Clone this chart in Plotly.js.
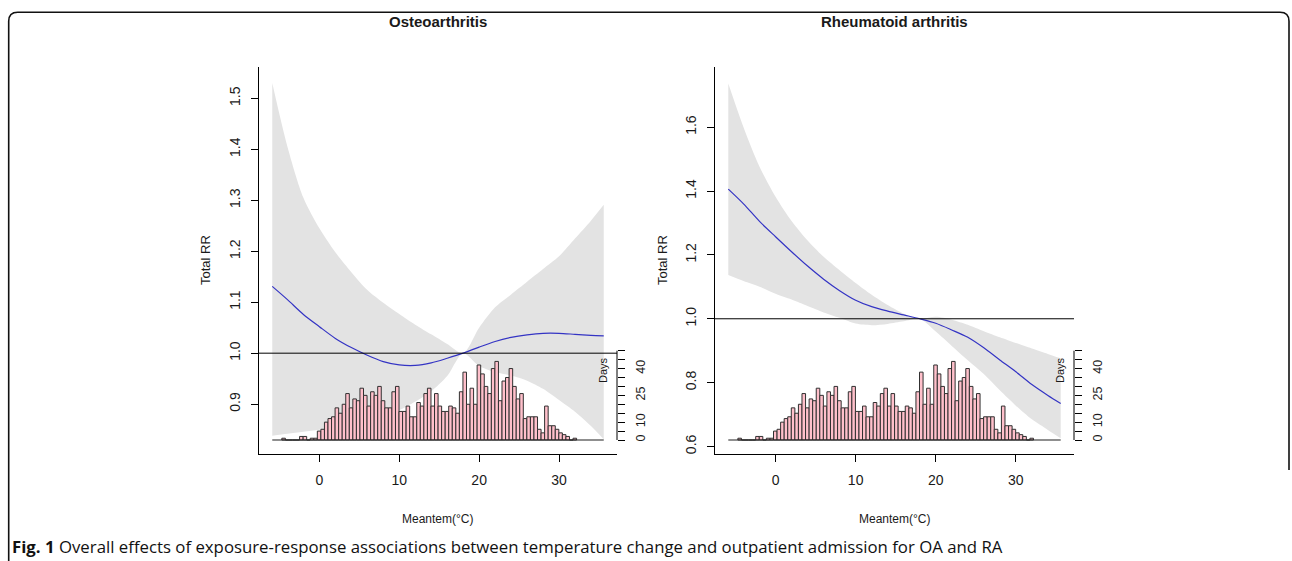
<!DOCTYPE html>
<html>
<head>
<meta charset="utf-8">
<script src="https://cdn.plot.ly/plotly-3.0.1.min.js"></script>
<style>
  html, body { margin: 0; padding: 0; background: #ffffff; }
  #chart { width: 1292px; height: 561px; }
</style>
</head>
<body>
<div id="chart"></div>
<script>
// ---------- data ----------
const panelTitles = ["Osteoarthritis", "Rheumatoid arthritis"];
const xTitle = "Meantem(°C)";
const yTitle = "Total RR";
const daysTitle = "Days";
const captionBold = "Fig. 1";
const captionText = " Overall effects of exposure-response associations between temperature change and outpatient admission for OA and RA";

const tempGrid = [-5.9, -4, -2, 0, 2, 4, 6, 8, 10, 12, 14, 16, 18, 20, 22, 24, 26, 28, 30, 32, 34, 35.6];

const oaRR    = [1.131, 1.105, 1.076, 1.052, 1.029, 1.011, 0.996, 0.9835, 0.977, 0.976, 0.981, 0.990, 1.000, 1.012, 1.023, 1.031, 1.036, 1.039, 1.039, 1.037, 1.035, 1.034];
const oaUpper = [1.530, 1.405, 1.305, 1.245, 1.198, 1.159, 1.124, 1.099, 1.077, 1.056, 1.037, 1.018, 1.000, 1.050, 1.090, 1.115, 1.140, 1.165, 1.190, 1.225, 1.260, 1.291];
const oaLower = [0.838, 0.842, 0.846, 0.850, 0.856, 0.863, 0.870, 0.878, 0.888, 0.905, 0.925, 0.955, 1.000, 0.975, 0.963, 0.956, 0.946, 0.930, 0.908, 0.885, 0.857, 0.831];

const raRR    = [1.406, 1.360, 1.305, 1.257, 1.210, 1.165, 1.124, 1.088, 1.058, 1.038, 1.024, 1.012, 1.000, 0.986, 0.965, 0.942, 0.909, 0.871, 0.834, 0.794, 0.760, 0.735];
const raUpper = [1.737, 1.600, 1.476, 1.382, 1.306, 1.245, 1.194, 1.152, 1.112, 1.075, 1.043, 1.016, 1.000, 1.006, 0.997, 0.981, 0.961, 0.942, 0.924, 0.907, 0.890, 0.876];
const raLower = [1.137, 1.118, 1.100, 1.078, 1.060, 1.040, 1.020, 1.003, 0.985, 0.980, 0.984, 0.992, 1.000, 0.960, 0.915, 0.870, 0.827, 0.776, 0.728, 0.685, 0.652, 0.626];

// histogram of days per temperature bin (same data under both panels)
const histFirstMid = -4.48;
const histBinWidth = 0.4446;
const histCounts = [
  1, 0, 0, 0, 0, 2, 2, 0, 1, 1,
  5, 6, 10, 12, 13, 18, 15, 20, 26, 18,
  23, 22, 29, 25, 19, 27, 25, 30, 22, 18,
  18, 27, 30, 16, 16, 19, 13, 13, 21, 19,
  26, 29, 19, 26, 19, 16, 16, 19, 18, 15,
  27, 38, 20, 29, 20, 42, 37, 30, 26, 40,
  44, 22, 33, 35, 40, 30, 23, 26, 12, 13,
  13, 13, 6, 4, 19, 8, 8, 6, 4, 3,
  2, 0, 1
];
const tempMin = -5.9, tempMax = 35.6;

const xTicks = [0, 10, 20, 30];
const oaYTicks = [0.9, 1.0, 1.1, 1.2, 1.3, 1.4, 1.5];
const raYTicks = [0.6, 0.8, 1.0, 1.2, 1.4, 1.6];
const dayTicks = [0, 5, 10, 15, 20, 25, 30, 35, 40, 45, 50];
const dayTickText = ["0", "", "10", "", "", "25", "", "", "40", "", ""];

// ---------- layout helpers (pixel positions) ----------
const W = 1292, H = 561;
const px = v => v / W;
const py = v => 1 - v / H;
const FONT = "Liberation Sans, Arial, sans-serif";
const TXT = "#1a1a1a";

const histMids = histCounts.map((c, i) => histFirstMid + i * histBinWidth);

function panelTraces(xa, ya, yd, rr, up, lo) {
  return [
    { x: tempGrid, y: lo, xaxis: xa, yaxis: ya, type: "scatter", mode: "lines",
      line: { width: 0, shape: "spline", smoothing: 0.8 }, hoverinfo: "skip", showlegend: false },
    { x: tempGrid, y: up, xaxis: xa, yaxis: ya, type: "scatter", mode: "lines", fill: "tonexty",
      fillcolor: "#E3E3E3", line: { width: 0, shape: "spline", smoothing: 0.8 }, hoverinfo: "skip", showlegend: false },
    { x: tempGrid, y: rr, xaxis: xa, yaxis: ya, type: "scatter", mode: "lines",
      line: { color: "#3434c4", width: 1.2, shape: "spline", smoothing: 0.8 }, showlegend: false },
    { x: histMids, y: histCounts, xaxis: xa, yaxis: yd, type: "bar", width: histBinWidth,
      marker: { color: "#FFC0CB", line: { color: "#303030", width: 1 } }, showlegend: false },
    { x: [tempMin, tempMax], y: [0, 0], xaxis: xa, yaxis: yd, type: "scatter", mode: "lines",
      line: { color: "#202020", width: 1.2 }, showlegend: false }
  ];
}

const data = [
  ...panelTraces("x", "y", "y3", oaRR, oaUpper, oaLower),
  ...panelTraces("x2", "y2", "y4", raRR, raUpper, raLower)
];

const yDom = [py(454.3), py(66.5)];
const xRange = [-7.56, 37.26];

function xAxis(dom, anchor) {
  return {
    domain: dom, anchor: anchor, range: xRange, tickvals: xTicks, ticks: "outside", ticklen: 7,
    tickwidth: 1, tickcolor: "#000", showline: true, linecolor: "#000", linewidth: 1,
    showgrid: false, zeroline: false, ticklabelstandoff: 6,
    tickfont: { family: FONT, size: 14, color: TXT }, fixedrange: true
  };
}
function yAxis(range, ticks, anchor) {
  return {
    domain: yDom, anchor: anchor, range: range, tickvals: ticks, tickformat: ".1f",
    ticks: "outside", ticklen: 7, tickwidth: 1, tickcolor: "#000", tickangle: -90,
    showline: true, linecolor: "#000", linewidth: 1, showgrid: false, zeroline: false,
    ticklabelstandoff: 5,
    tickfont: { family: FONT, size: 14, color: TXT }, fixedrange: true
  };
}
function dayAxis(over, anchor) {
  return {
    overlaying: over, anchor: anchor, side: "right", range: [-8.0, 209.1],
    tickvals: dayTicks, ticktext: dayTickText, ticks: "outside", ticklen: 7, tickwidth: 1,
    tickcolor: "#000", tickangle: -90, showline: false, showgrid: false, zeroline: false,
    ticklabelstandoff: 5,
    tickfont: { family: FONT, size: 12.5, color: TXT }, fixedrange: true
  };
}

function ann(text, x, y, size, opts) {
  return Object.assign({
    text: text, xref: "paper", yref: "paper", x: px(x), y: py(y),
    xanchor: "center", yanchor: "middle", showarrow: false,
    font: { family: FONT, size: size, color: TXT }
  }, opts || {});
}

const annotations = [
  ann("<b>" + panelTitles[0] + "</b>", 438, 21, 15),
  ann("<b>" + panelTitles[1] + "</b>", 894.5, 21, 15),
  ann(yTitle, 206, 260, 13, { textangle: -90 }),
  ann(yTitle, 663, 260, 13, { textangle: -90 }),
  ann(xTitle, 438, 519, 12),
  ann(xTitle, 894.5, 519, 12),
  ann(daysTitle, 603, 370, 11, { textangle: -90 }),
  ann(daysTitle, 1060, 370, 11, { textangle: -90 }),
  { text: "<b>" + captionBold + "</b>" + captionText, xref: "paper", yref: "paper",
    x: px(10), y: py(546), xanchor: "left", yanchor: "middle", showarrow: false,
    font: { family: "Open Sans, sans-serif", size: 16.8, color: "#111" } }
];

// border frame with rounded top corners
const r = 9;
const bL = 8.7, bT = 12.3, bR = 1289, bBL = 561, bBR = 470;
const framePath =
  "M " + px(bL) + "," + py(bBL) +
  " L " + px(bL) + "," + py(bT + r) +
  " Q " + px(bL) + "," + py(bT) + " " + px(bL + r) + "," + py(bT) +
  " L " + px(bR - r) + "," + py(bT) +
  " Q " + px(bR) + "," + py(bT) + " " + px(bR) + "," + py(bT + r) +
  " L " + px(bR) + "," + py(bBR);

const shapes = [
  { type: "path", path: framePath, xref: "paper", yref: "paper", line: { color: "#111", width: 1.6 } },
  { type: "line", xref: "x domain", x0: 0, x1: 1, yref: "y", y0: 1, y1: 1, line: { color: "#000", width: 1 } },
  { type: "line", xref: "x2 domain", x0: 0, x1: 1, yref: "y2", y0: 1, y1: 1, line: { color: "#000", width: 1 } },
  { type: "line", xref: "x domain", x0: 1, x1: 1, yref: "y3", y0: 0, y1: 50, line: { color: "#000", width: 1 } },
  { type: "line", xref: "x2 domain", x0: 1, x1: 1, yref: "y4", y0: 0, y1: 50, line: { color: "#000", width: 1 } }
];

const layout = {
  width: W, height: H,
  margin: { l: 0, r: 0, t: 0, b: 0 },
  paper_bgcolor: "#ffffff", plot_bgcolor: "rgba(0,0,0,0)",
  showlegend: false, barmode: "overlay", bargap: 0,
  xaxis: xAxis([px(259), px(617)], "y"),
  yaxis: yAxis([0.8016, 1.5625], oaYTicks, "x"),
  xaxis2: xAxis([px(715), px(1074)], "y2"),
  yaxis2: yAxis([0.5756, 1.79], raYTicks, "x2"),
  yaxis3: dayAxis("y", "x"),
  yaxis4: dayAxis("y2", "x2"),
  annotations: annotations,
  shapes: shapes
};

Plotly.newPlot("chart", data, layout, { displayModeBar: false, staticPlot: true });
</script>
</body>
</html>
